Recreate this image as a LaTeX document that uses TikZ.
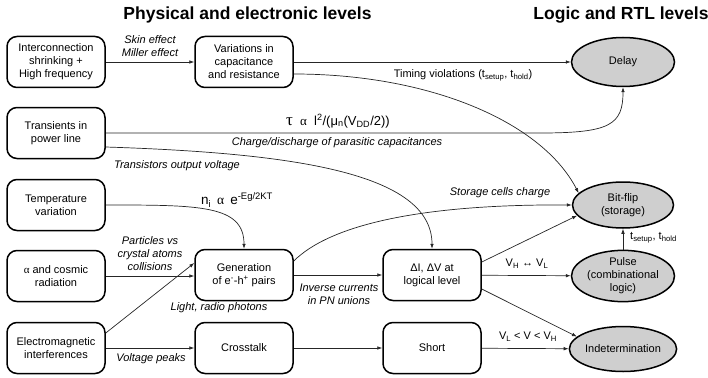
\documentclass[tikz,border=0pt]{standalone}
\usepackage{fontspec}
\setmainfont{Liberation Sans}
\newfontfamily\grk{Liberation Serif}
\usetikzlibrary{arrows.meta,shapes.geometric}

\begin{document}
\begin{tikzpicture}[x=1pt,y=-1pt,
  font=\fontsize{11}{13}\selectfont,
  stepbox/.style={draw, line width=1.5pt, rounded corners=10pt, minimum width=98pt,
    minimum height=51pt, align=center, inner sep=2pt},
  outcome/.style={ellipse, draw, line width=1.5pt, fill=black!19, align=center, inner sep=0pt},
  link/.style={draw=black!85, line width=0.7pt, -{Latex[length=5pt,width=3.6pt]}},
  lab/.style={font=\fontsize{11}{13}\selectfont\itshape, align=center, inner sep=0pt},
  plainlab/.style={font=\fontsize{11}{13}\selectfont, align=center, inner sep=0pt},
  formula/.style={font=\fontsize{13}{15}\selectfont, inner sep=0pt},
  heading/.style={font=\fontsize{17.5}{20}\selectfont\bfseries, inner sep=0pt, anchor=base}]

\useasboundingbox (0,0) rectangle (708,377);

% column headings
\node[heading] (hphys) at (247.5,20) {Physical and electronic levels};
\node[heading] (hlogic) at (621,20) {Logic and RTL levels};

% causes
\node[stepbox] (inter) at (56,62)  {Interconnection\\shrinking +\\High frequency};
\node[stepbox] (trans) at (56,133) {Transients in\\power line};
\node[stepbox] (temp)  at (56,205) {Temperature\\variation};
\node[stepbox] (alpha) at (56,276) {{\grk α} and cosmic\\radiation};
\node[stepbox] (em)    at (56,348) {Electromagnetic\\interferences};

% physical mechanisms
\node[stepbox] (var)   at (244,62)  {Variations in\\capacitance\\and resistance};
\node[stepbox] (gen)   at (244,275) {Generation\\of e\textsuperscript{-}-h\textsuperscript{+} pairs};
\node[stepbox] (cross) at (244,348) {Crosstalk};
\node[stepbox] (dI)    at (432,275) {ΔI, ΔV at\\logical level};
\node[stepbox] (short) at (432,348) {Short};

% logic-level effects
\node[outcome, minimum width=103pt, minimum height=49pt] (delay)   at (623,62)  {Delay};
\node[outcome, minimum width=101pt, minimum height=46pt] (bitflip) at (623,205) {Bit-flip\\(storage)};
\node[outcome, minimum width=103pt, minimum height=51pt] (pulse)   at (623,276) {Pulse\\(combinational\\logic)};
\node[outcome, minimum width=103pt, minimum height=45pt] (indet)   at (623,349) {Indetermination};

% connectors
\draw[link] (inter) -- (var);
\draw[link] (var) -- (delay);
\draw[link] ([yshift=-12pt]var.east) .. controls (430,74) and (542,122) .. (bitflip.165);
\draw[link] (trans.east) -- (540,133) .. controls (610,133) and (623,125) .. (delay.south);
\draw[link] ([yshift=-14pt]trans.east) .. controls (290,153) and (432,172) .. (dI.north);
\draw[link] (temp.east) .. controls (200,205) and (244,205) .. (gen.north);
\draw[link] (alpha) -- (alpha -| gen.west);
\draw[link] ([yshift=15pt]em.east) -- ([yshift=12pt]gen.west);
\draw[link] (em) -- (cross);
\draw[link] (cross) -- (short);
\draw[link] (gen) -- (dI);
\draw[link] ([yshift=14pt]gen.east) .. controls (330,225) and (420,204) .. (bitflip.west);
\draw[link] ([yshift=13pt]dI.east) -- (bitflip.193);
\draw[link] (dI) -- (pulse);
\draw[link] ([yshift=-14pt]dI.east) -- (indet.165);
\draw[link] (short) -- (indet);
\draw[link] (pulse) -- (bitflip);

% connector labels
\node[lab] (lskin) at (150,46) {Skin effect\\Miller effect};
\node[plainlab] (ltiming) at (463,75) {Timing violations (t\textsubscript{setup}, t\textsubscript{hold})};
\node[formula] (ltau) at (338,121) {{\grk\fontsize{17}{17}\selectfont τ}\hspace{0.55em}{\grk α}\hspace{0.55em}l\textsuperscript{2}/(μ\textsubscript{n}(V\textsubscript{DD}/2))};
\node[lab] (lcharge) at (337,143) {Charge/discharge of parasitic capacitances};
\node[lab] (ltransout) at (177,166) {Transistors output voltage};
\node[formula, font=\fontsize{13.5}{15}\selectfont] (lni) at (237,200) {n\textsubscript{i}\hspace{0.45em}{\grk α}\hspace{0.45em}e\textsuperscript{-Eg/2KT}};
\node[lab] (lpart) at (150,254) {Particles vs\\crystal atoms\\collisions};
\node[lab] (llight) at (219,308) {Light, radio photons};
\node[lab] (lpeaks) at (151,359) {Voltage peaks};
\node[lab] (linverse) at (339,294) {Inverse currents\\in PN unions};
\node[lab] (lstorage) at (500,193) {Storage cells charge};
\node[plainlab] (lvhvl) at (527,264) {V\textsubscript{H} ↔ V\textsubscript{L}};
\node[plainlab] (lvlv) at (528,337) {V\textsubscript{L} < V < V\textsubscript{H}};
\node[plainlab, anchor=west] (ltsetup) at (630,238) {t\textsubscript{setup}, t\textsubscript{hold}};

\end{tikzpicture}
\end{document}
